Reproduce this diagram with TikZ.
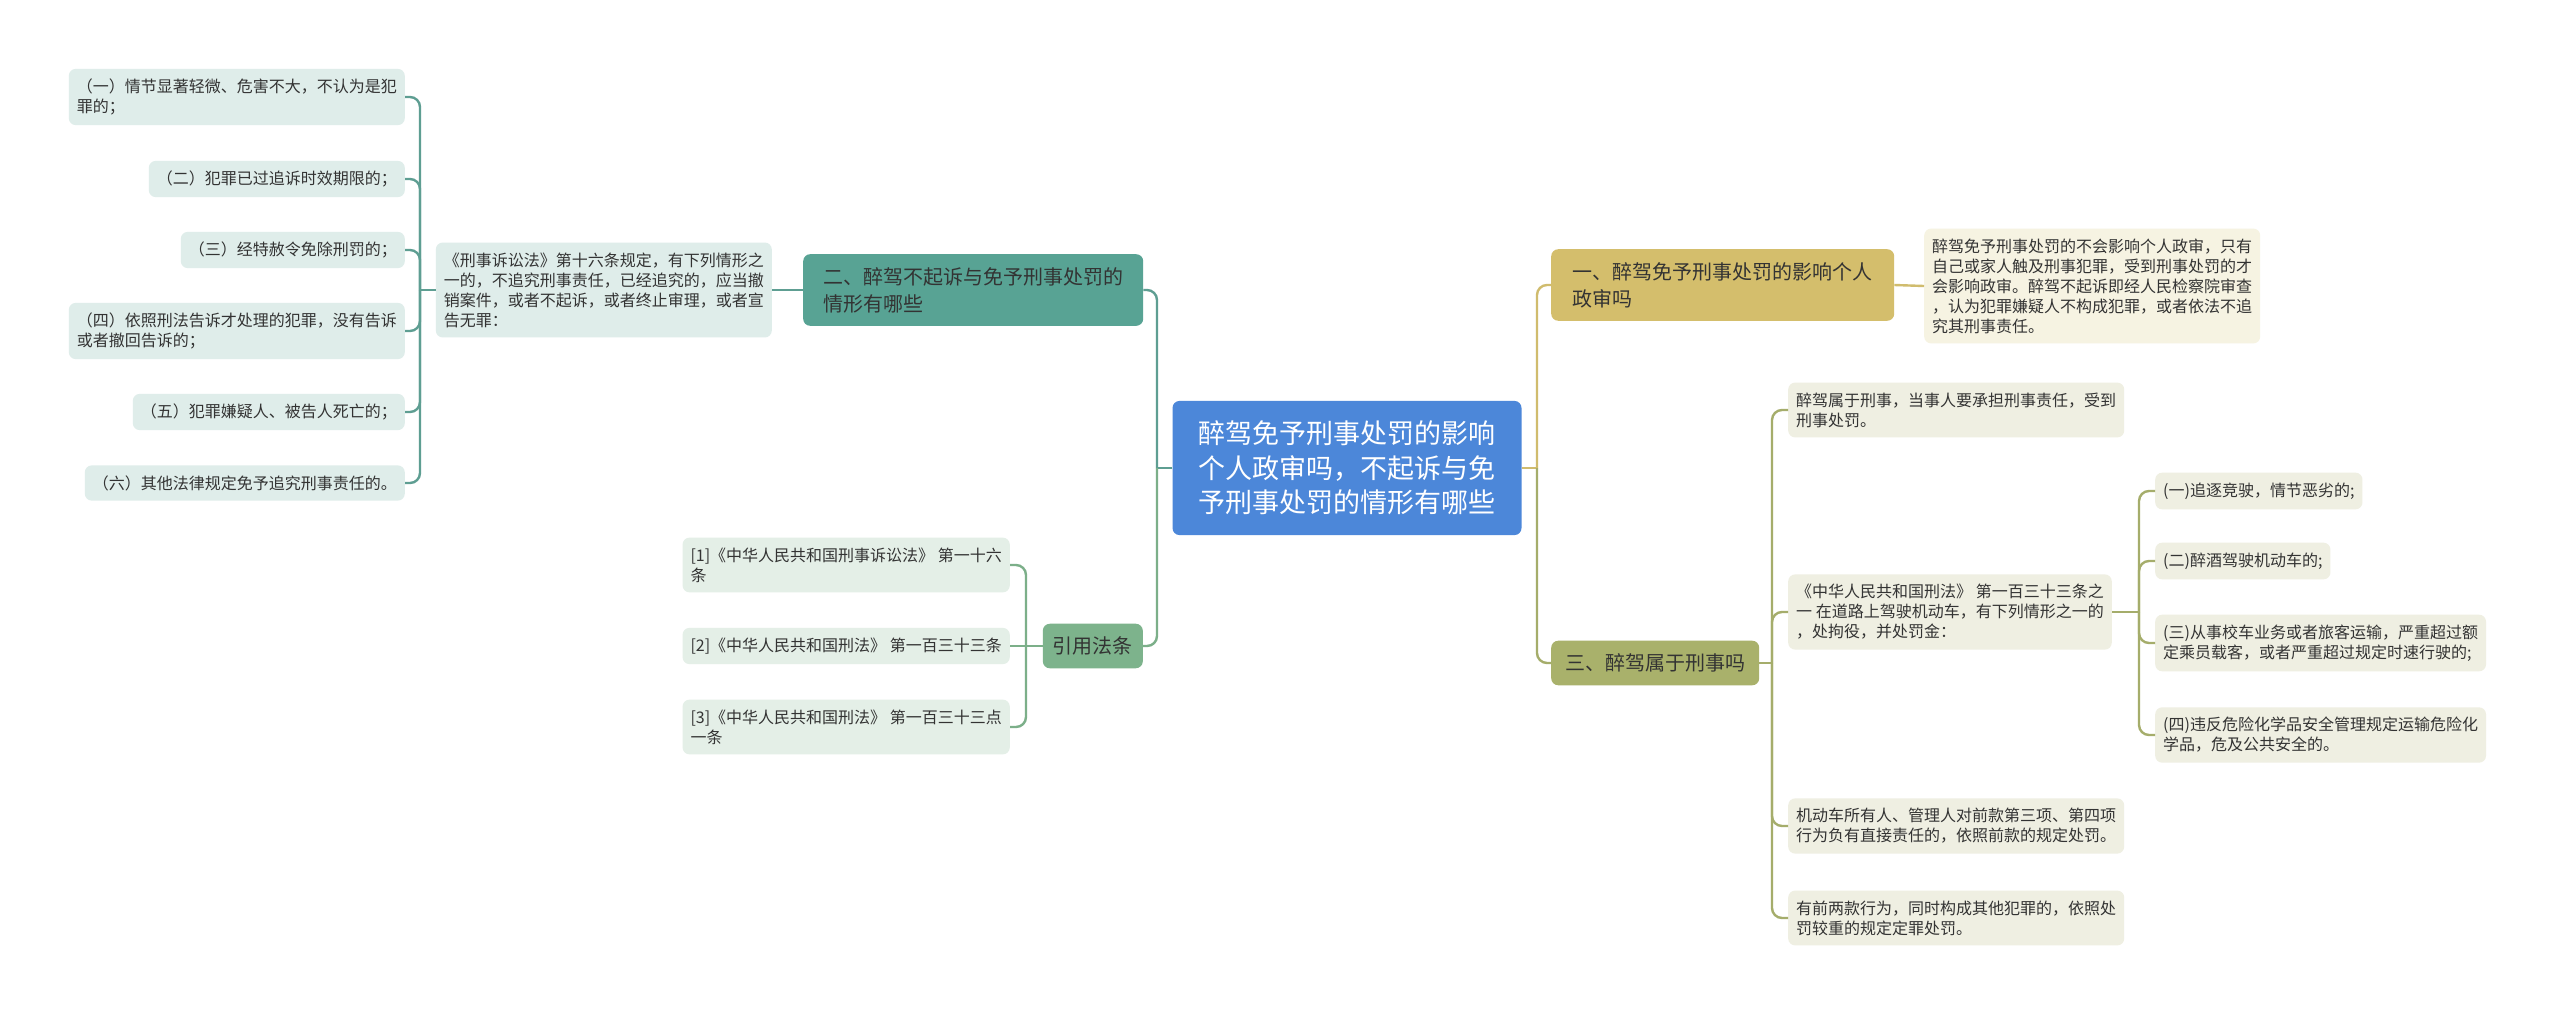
\documentclass[tikz,border=0pt]{standalone}
\usepackage{fontspec}
\setmainfont{Noto Sans CJK SC}
\usetikzlibrary{calc,positioning}

\definecolor{rootfill}{HTML}{4C87D9}
\definecolor{tealfill}{HTML}{58A394}
\definecolor{tealleaf}{HTML}{DFEDEA}
\definecolor{tealline}{HTML}{5E9E92}
\definecolor{greenfill}{HTML}{7DB38C}
\definecolor{greenleaf}{HTML}{E4EFE7}
\definecolor{greenline}{HTML}{7CAF89}
\definecolor{goldfill}{HTML}{D4BE6C}
\definecolor{goldleaf}{HTML}{F6F3E2}
\definecolor{goldline}{HTML}{D0BC6E}
\definecolor{olivefill}{HTML}{A9B16B}
\definecolor{oliveleaf}{HTML}{EFEFE2}
\definecolor{oliveline}{HTML}{A5AD6B}
\definecolor{inkdark}{HTML}{333333}

\begin{document}
\begin{tikzpicture}[x=1pt,y=-1pt,
    box/.style={rounded corners=7pt,align=left,text=inkdark},
    leaf/.style={box,inner xsep=8pt,inner ysep=10pt,
                 font=\fontsize{16}{20}\selectfont},
    topic/.style={box,inner xsep=12pt,inner ysep=13pt,
                  font=\fontsize{20}{27}\selectfont},
    link/.style={line width=2.4pt,rounded corners=10pt}]

  \fill [white] (0,0) rectangle (2560,1015) ;
  \useasboundingbox (0,0) rectangle (2560,1015) ;

%
  \node [box,fill=rootfill,text=white,align=center,inner xsep=26pt,
         inner ysep=20pt,font=\fontsize{27}{34.5}\selectfont]
        (root) at (1347,468)
        {醉驾免予刑事处罚的影响\\个人政审吗，不起诉与免\\予刑事处罚的情形有哪些} ;

  % left: 二
  \node [topic,fill=tealfill,anchor=west,minimum width=340pt] (sec2) at (803,290)
        {二、醉驾不起诉与免予刑事处罚的\\情形有哪些} ;
  \node [leaf,fill=tealleaf,anchor=east] (law16) at (772,290)
        {《刑事诉讼法》第十六条规定，有下列情形之\\一的，不追究刑事责任，已经追究的，应当撤\\销案件，或者不起诉，或者终止审理，或者宣\\告无罪：} ;
  \node [leaf,fill=tealleaf,anchor=east] (case1) at (405,97)
        {（一）情节显著轻微、危害不大，不认为是犯\\罪的；} ;
  \node [leaf,fill=tealleaf,anchor=east] (case2) at (405,179)
        {（二）犯罪已过追诉时效期限的；} ;
  \node [leaf,fill=tealleaf,anchor=east] (case3) at (405,250)
        {（三）经特赦令免除刑罚的；} ;
  \node [leaf,fill=tealleaf,anchor=east] (case4) at (405,331)
        {（四）依照刑法告诉才处理的犯罪，没有告诉\\或者撤回告诉的；} ;
  \node [leaf,fill=tealleaf,anchor=east] (case5) at (405,412)
        {（五）犯罪嫌疑人、被告人死亡的；} ;
  \node [leaf,fill=tealleaf,anchor=east] (case6) at (405,483)
        {（六）其他法律规定免予追究刑事责任的。} ;

  % left: 引用法条
  \node [topic,fill=greenfill,anchor=east,inner xsep=10pt] (cite) at (1143,646) {引用法条} ;
  \node [leaf,fill=greenleaf,anchor=east] (cite1) at (1010,565)
        {[1]《中华人民共和国刑事诉讼法》 第一十六\\条} ;
  \node [leaf,fill=greenleaf,anchor=east] (cite2) at (1010,646)
        {[2]《中华人民共和国刑法》 第一百三十三条} ;
  \node [leaf,fill=greenleaf,anchor=east] (cite3) at (1010,727)
        {[3]《中华人民共和国刑法》 第一百三十三点\\一条} ;

  % right: 一
  \node [topic,fill=goldfill,anchor=west,minimum width=343pt] (sec1) at (1551,285)
        {一、醉驾免予刑事处罚的影响个人\\政审吗} ;
  \node [leaf,fill=goldleaf,anchor=west] (review) at (1924,286)
        {醉驾免予刑事处罚的不会影响个人政审，只有\\自己或家人触及刑事犯罪，受到刑事处罚的才\\会影响政审。醉驾不起诉即经人民检察院审查\\，认为犯罪嫌疑人不构成犯罪，或者依法不追\\究其刑事责任。} ;

  % right: 三
  \node [topic,fill=olivefill,anchor=west,inner xsep=14pt] (sec3) at (1551,663)
        {三、醉驾属于刑事吗} ;
  \node [leaf,fill=oliveleaf,anchor=west] (crime) at (1788,410)
        {醉驾属于刑事，当事人要承担刑事责任，受到\\刑事处罚。} ;
  \node [leaf,fill=oliveleaf,anchor=west] (art133) at (1788,612)
        {《中华人民共和国刑法》 第一百三十三条之\\一 在道路上驾驶机动车，有下列情形之一的\\，处拘役，并处罚金：} ;
  \node [leaf,fill=oliveleaf,anchor=west] (owner) at (1788,826)
        {机动车所有人、管理人对前款第三项、第四项\\行为负有直接责任的，依照前款的规定处罚。} ;
  \node [leaf,fill=oliveleaf,anchor=west] (heavier) at (1788,918)
        {有前两款行为，同时构成其他犯罪的，依照处\\罚较重的规定定罪处罚。} ;
  \node [leaf,fill=oliveleaf,anchor=west] (drive1) at (2155,491)
        {(一)追逐竞驶，情节恶劣的;} ;
  \node [leaf,fill=oliveleaf,anchor=west] (drive2) at (2155,561)
        {(二)醉酒驾驶机动车的;} ;
  \node [leaf,fill=oliveleaf,anchor=west] (drive3) at (2155,643)
        {(三)从事校车业务或者旅客运输，严重超过额\\定乘员载客，或者严重超过规定时速行驶的;} ;
  \node [leaf,fill=oliveleaf,anchor=west] (drive4) at (2155,735)
        {(四)违反危险化学品安全管理规定运输危险化\\学品，危及公共安全的。} ;
%

  \coordinate (ltrunk) at (1157,468) ;
  \coordinate (rtrunk) at (1537,468) ;
  \coordinate (casebus) at (420,290) ;
  \coordinate (citebus) at (1026,646) ;
  \coordinate (sec3bus) at (1772,663) ;
  \coordinate (artbus) at (2139,612) ;

  \draw [link,tealline] (root.west) -- (ltrunk) ;
  \draw [link,tealline] (ltrunk) |- (sec2.east) ;
  \draw [link,tealline] (sec2.west) -- (law16.east) ;
  \draw [link,tealline] (law16.west) -- (casebus) ;
  \foreach \c in {case1,case2,case3,case4,case5,case6}
    \draw [link,tealline] (casebus) |- (\c.east) ;

  \draw [link,greenline] (ltrunk) |- (cite.east) ;
  \draw [link,greenline] (cite.west) -- (citebus) ;
  \foreach \c in {cite1,cite3}
    \draw [link,greenline] (citebus) |- (\c.east) ;
  \draw [link,greenline] (citebus) -- (cite2.east) ;

  \draw [link,goldline] (root.east) -- (rtrunk) ;
  \draw [link,goldline] (rtrunk) |- (sec1.west) ;
  \draw [link,goldline] (sec1.east) -- (review.west) ;

  \draw [link,oliveline] (rtrunk) |- (sec3.west) ;
  \draw [link,oliveline] (sec3.east) -- (sec3bus) ;
  \foreach \c in {crime,art133,owner,heavier}
    \draw [link,oliveline] (sec3bus) |- (\c.west) ;
  \draw [link,oliveline] (art133.east) -- (artbus) ;
  \foreach \c in {drive1,drive2,drive3,drive4}
    \draw [link,oliveline] (artbus) |- (\c.west) ;

\end{tikzpicture}
\end{document}
